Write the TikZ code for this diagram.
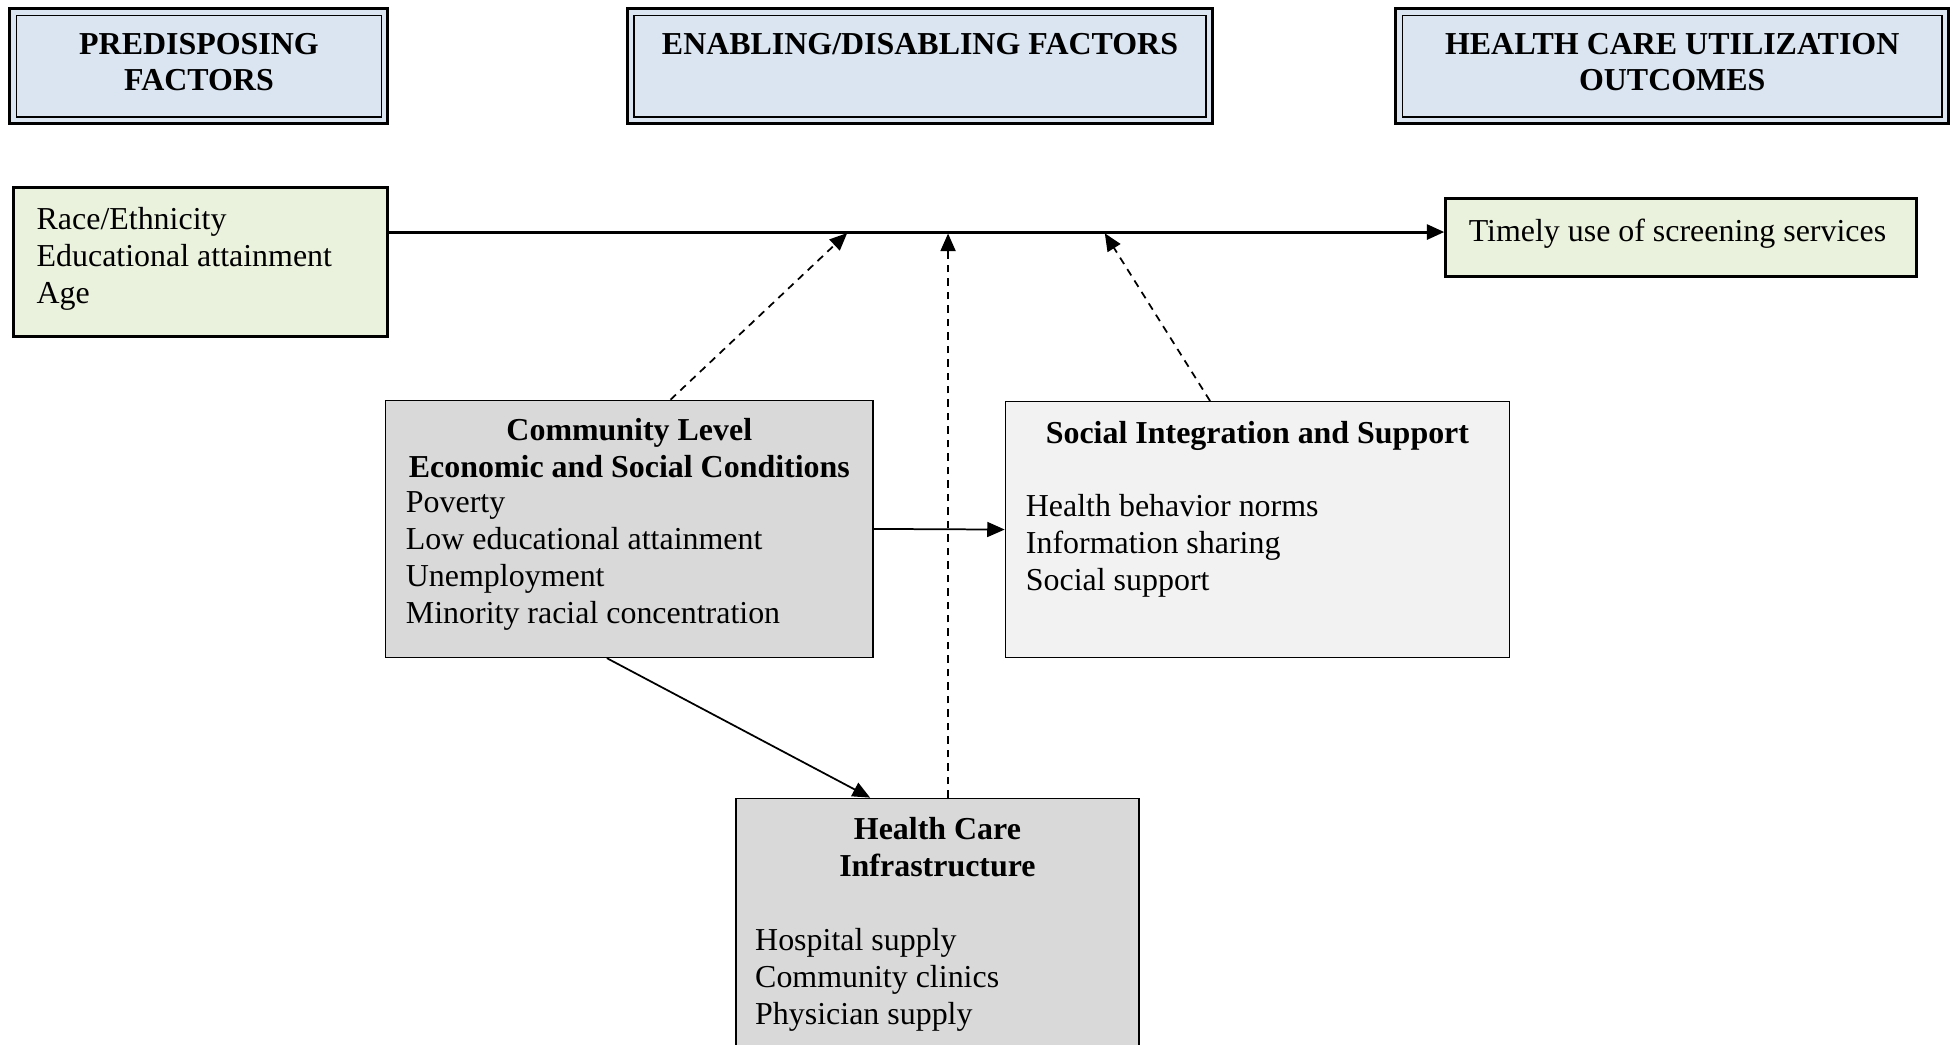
\documentclass[tikz,border=0pt]{standalone}
\usepackage{fontspec}
\setmainfont{Liberation Serif}
\usetikzlibrary{arrows.meta,positioning,fit,calc}
\definecolor{headblue}{HTML}{DBE5F1}
\definecolor{predgreen}{HTML}{EAF1DD}
\definecolor{commgray}{HTML}{D9D9D9}
\definecolor{socgray}{HTML}{F2F2F2}
\newcommand\diagfont{\fontsize{12.8}{14.75}\selectfont}
\tikzset{
  headbox/.style={inner sep=0pt, draw, line width=1.2pt, fill=headblue,
    path picture={\draw[line width=0.5pt]
      ([xshift=2.6pt,yshift=-2.6pt]path picture bounding box.north west) rectangle
      ([xshift=-2.6pt,yshift=2.6pt]path picture bounding box.south east);}},
  predbox/.style={inner sep=0pt, draw, line width=1.2pt, fill=predgreen},
  commbox/.style={inner sep=0pt, draw, line width=0.6pt, fill=commgray},
  socbox/.style={inner sep=0pt, draw, line width=0.6pt, fill=socgray},
  headtext/.style={anchor=north, inner sep=0pt, align=center, font=\diagfont\bfseries},
  titletext/.style={anchor=north, inner sep=0pt, align=center, font=\diagfont\bfseries},
  listtext/.style={anchor=north west, inner sep=0pt, align=left, font=\diagfont},
  mainline/.style={line width=1.2pt, -{Triangle[length=7pt,width=6pt]}},
  dasharr/.style={line width=0.7pt, dash pattern=on 3pt off 2.4pt,
    -{Triangle[length=7pt,width=6pt]}, shorten >=0.6pt},
  solarr/.style={line width=0.7pt, -{Triangle[length=7pt,width=6pt]}}
}
\begin{document}
\begin{tikzpicture}[x=0.5pt,y=-0.5pt,font=\diagfont]
  \useasboundingbox (0,0) rectangle (1568,837);
  \clip (0,0) rectangle (1568,837);
  % headings
  \node[headbox, fit={(8,7) (311,99)}] (pred) {};
  \node[headtext] (predt) at (159.5,26) {PREDISPOSING\\FACTORS};
  \node[headbox, fit={(503,7) (972,99)}] (enab) {};
  \node[headtext] (enabt) at (737.5,26) {ENABLING/DISABLING FACTORS};
  \node[headbox, fit={(1119,7) (1562,99)}] (util) {};
  \node[headtext] (utilt) at (1340.5,26) {HEALTH CARE UTILIZATION\\OUTCOMES};
  % predisposing and outcome
  \node[predbox, fit={(11,150) (311,270)}] (pre) {};
  \node[listtext] (pret) at (29,166) {Race/Ethnicity\\Educational attainment\\Age};
  \node[predbox, fit={(1159,159) (1536,222)}] (out) {};
  \node[listtext] (outt) at (1177,175) {Timely use of screening services};
  % enabling boxes
  \node[commbox, fit={(309,321) (700,527)}] (comm) {};
  \node[titletext] (commt) at (504.5,335) {Community Level\\Economic and Social Conditions};
  \node[listtext] (comml) at (325,394) {Poverty\\Low educational attainment\\Unemployment\\Minority racial concentration};
  \node[socbox, fit={(806,322) (1210,527)}] (soc) {};
  \node[titletext] (soct) at (1008,337) {Social Integration and Support};
  \node[listtext] (socl) at (822,396) {Health behavior norms\\Information sharing\\Social support};
  \node[commbox, fit={(590,640) (913,860)}] (health) {};
  \node[titletext] (healtht) at (751.5,655) {Health Care\\Infrastructure};
  \node[listtext] (healthl) at (605,744) {Hospital supply\\Community clinics\\Physician supply};
  % connectors
  \coordinate (hub) at (760,186);
  \draw[mainline] (pre.east |- hub) -- (out.west |- hub);
  \draw[dasharr] ($(comm.north)+(33,0)$) -- ($(hub)+(-80,0)$);
  \draw[dasharr] (health.north -| hub) -- (hub);
  \draw[dasharr] ($(soc.north)+(-38,0)$) -- ($(hub)+(125,0)$);
  \draw[solarr] (comm.east) -- (soc.west);
  \draw[solarr] ($(comm.south)+(-18,0)$) -- ($(health.north)+(-54,0)$);
\end{tikzpicture}
\end{document}
